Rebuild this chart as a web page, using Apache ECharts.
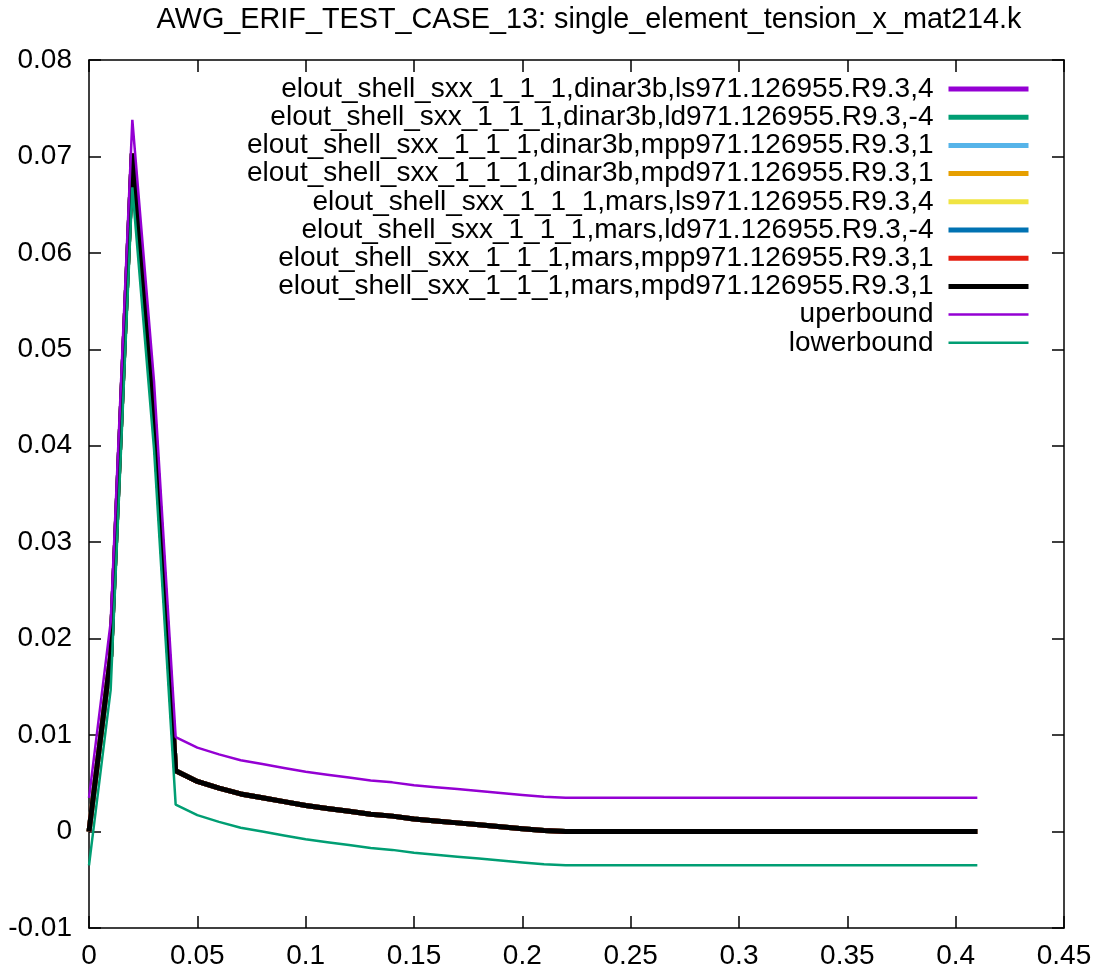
<!DOCTYPE html>
<html>
<head>
<meta charset="utf-8">
<script src="https://cdn.jsdelivr.net/npm/echarts@6/dist/echarts.min.js"></script>
<style>html,body{margin:0;padding:0;background:#fff}#c{width:1102px;height:972px}</style>
</head>
<body>
<div id="c"></div>
<script>
const titleText = 'AWG_ERIF_TEST_CASE_13: single_element_tension_x_mat214.k';
const xs = [0, 0.01, 0.02, 0.03, 0.04, 0.05, 0.06, 0.07, 0.08, 0.09, 0.10, 0.11, 0.12, 0.13, 0.14, 0.15, 0.16, 0.17, 0.18, 0.19, 0.20, 0.21, 0.22,
  0.23, 0.24, 0.25, 0.26, 0.27, 0.28, 0.29, 0.30, 0.31, 0.32, 0.33, 0.34, 0.35, 0.36, 0.37, 0.38, 0.39, 0.40, 0.41];
const sxx = [0, 0.0182, 0.0703, 0.0432, 0.0063, 0.0052, 0.0045, 0.0039, 0.0035, 0.0031, 0.0027, 0.0024, 0.0021, 0.0018, 0.0016, 0.0013, 0.0011, 0.0009, 0.0007, 0.0005, 0.0003, 0.0001, 0,
  0, 0, 0, 0, 0, 0, 0, 0, 0, 0, 0, 0, 0, 0, 0, 0, 0, 0, 0];
const upper = [0.0035, 0.0217, 0.0738, 0.0467, 0.0098, 0.0087, 0.0080, 0.0074, 0.0070, 0.0066, 0.0062, 0.0059, 0.0056, 0.0053, 0.0051, 0.0048, 0.0046, 0.0044, 0.0042, 0.0040, 0.0038, 0.0036, 0.0035,
  0.0035, 0.0035, 0.0035, 0.0035, 0.0035, 0.0035, 0.0035, 0.0035, 0.0035, 0.0035, 0.0035, 0.0035, 0.0035, 0.0035, 0.0035, 0.0035, 0.0035, 0.0035, 0.0035];
const lower = [-0.0035, 0.0147, 0.0668, 0.0397, 0.0028, 0.0017, 0.0010, 0.0004, 0.0000, -0.0004, -0.0008, -0.0011, -0.0014, -0.0017, -0.0019, -0.0022, -0.0024, -0.0026, -0.0028, -0.0030, -0.0032, -0.0034, -0.0035,
  -0.0035, -0.0035, -0.0035, -0.0035, -0.0035, -0.0035, -0.0035, -0.0035, -0.0035, -0.0035, -0.0035, -0.0035, -0.0035, -0.0035, -0.0035, -0.0035, -0.0035, -0.0035, -0.0035];
const seriesNames = [
  'elout_shell_sxx_1_1_1,dinar3b,ls971.126955.R9.3,4',
  'elout_shell_sxx_1_1_1,dinar3b,ld971.126955.R9.3,-4',
  'elout_shell_sxx_1_1_1,dinar3b,mpp971.126955.R9.3,1',
  'elout_shell_sxx_1_1_1,dinar3b,mpd971.126955.R9.3,1',
  'elout_shell_sxx_1_1_1,mars,ls971.126955.R9.3,4',
  'elout_shell_sxx_1_1_1,mars,ld971.126955.R9.3,-4',
  'elout_shell_sxx_1_1_1,mars,mpp971.126955.R9.3,1',
  'elout_shell_sxx_1_1_1,mars,mpd971.126955.R9.3,1'
];
const seriesColors = ['#9400d3', '#009e73', '#56b4e9', '#e69f00', '#f0e442', '#0072b2', '#e51e10', '#000000'];
const boundNames = ['uperbound', 'lowerbound'];
const boundColors = ['#9400d3', '#009e73'];
const xTicks = [0, 0.45, 0.05];
const yTicks = [-0.01, 0.08, 0.01];

const pair = arr => xs.map((x, i) => [x, arr[i]]);
const FONT = '"Liberation Sans", Arial, sans-serif';
const fmt = v => String(+v.toFixed(4));
const THICK = 5, THIN = 2.5;

const series = [];
seriesNames.forEach((n, i) => series.push({
  name: n, type: 'line', data: pair(sxx), symbol: 'none', showSymbol: false,
  lineStyle: { color: seriesColors[i], width: THICK }, itemStyle: { color: seriesColors[i] },
  animation: false, z: 2 + i
}));
series.push({ name: boundNames[0], type: 'line', data: pair(upper), symbol: 'none', showSymbol: false,
  lineStyle: { color: boundColors[0], width: THIN }, itemStyle: { color: boundColors[0] }, animation: false, z: 20 });
series.push({ name: boundNames[1], type: 'line', data: pair(lower), symbol: 'none', showSymbol: false,
  lineStyle: { color: boundColors[1], width: THIN }, itemStyle: { color: boundColors[1] }, animation: false, z: 21 });

const legendData = seriesNames.map((n, i) => ({ name: n, lineStyle: { width: THICK, color: seriesColors[i] }, itemStyle: { opacity: 0 } }))
  .concat(boundNames.map((n, i) => ({ name: n, lineStyle: { width: THIN, color: boundColors[i] }, itemStyle: { opacity: 0 } })));

const axisLine = { show: true, onZero: false, lineStyle: { color: '#000', width: 1.5 } };
const tick = { show: true, inside: true, length: 12, lineStyle: { color: '#000', width: 1.5 } };

const chart = echarts.init(document.getElementById('c'), null, { renderer: 'canvas' });
chart.setOption({
  backgroundColor: '#fff',
  animation: false,
  title: { text: titleText, left: 584, top: 1, textAlign: 'center',
    textStyle: { fontFamily: FONT, fontSize: 28.8, fontWeight: 'normal', color: '#000' } },
  grid: { left: 89, right: 38, top: 60, bottom: 44, containLabel: false },
  legend: {
    orient: 'vertical', right: 71, top: 75, align: 'right', padding: 0,
    itemWidth: 80, itemHeight: 14, itemGap: 0.2,
    itemStyle: { opacity: 0 },
    textStyle: { fontFamily: FONT, fontSize: 28, lineHeight: 28, color: '#000', padding: [0, 10, 0, 0] },
    data: legendData
  },
  xAxis: [
    { type: 'value', min: xTicks[0], max: xTicks[1], interval: xTicks[2], position: 'bottom',
      axisLine, axisTick: tick, splitLine: { show: false },
      axisLabel: { fontFamily: FONT, fontSize: 28, color: '#000', margin: 14, formatter: fmt } },
    { type: 'value', min: xTicks[0], max: xTicks[1], interval: xTicks[2], position: 'top',
      axisLine, axisTick: tick, splitLine: { show: false }, axisLabel: { show: false } }
  ],
  yAxis: [
    { type: 'value', min: yTicks[0], max: yTicks[1], interval: yTicks[2], position: 'left',
      axisLine, axisTick: tick, splitLine: { show: false },
      axisLabel: { fontFamily: FONT, fontSize: 28, color: '#000', margin: 17, formatter: fmt } },
    { type: 'value', min: yTicks[0], max: yTicks[1], interval: yTicks[2], position: 'right',
      axisLine, axisTick: tick, splitLine: { show: false }, axisLabel: { show: false } }
  ],
  series
});
</script>
</body>
</html>
